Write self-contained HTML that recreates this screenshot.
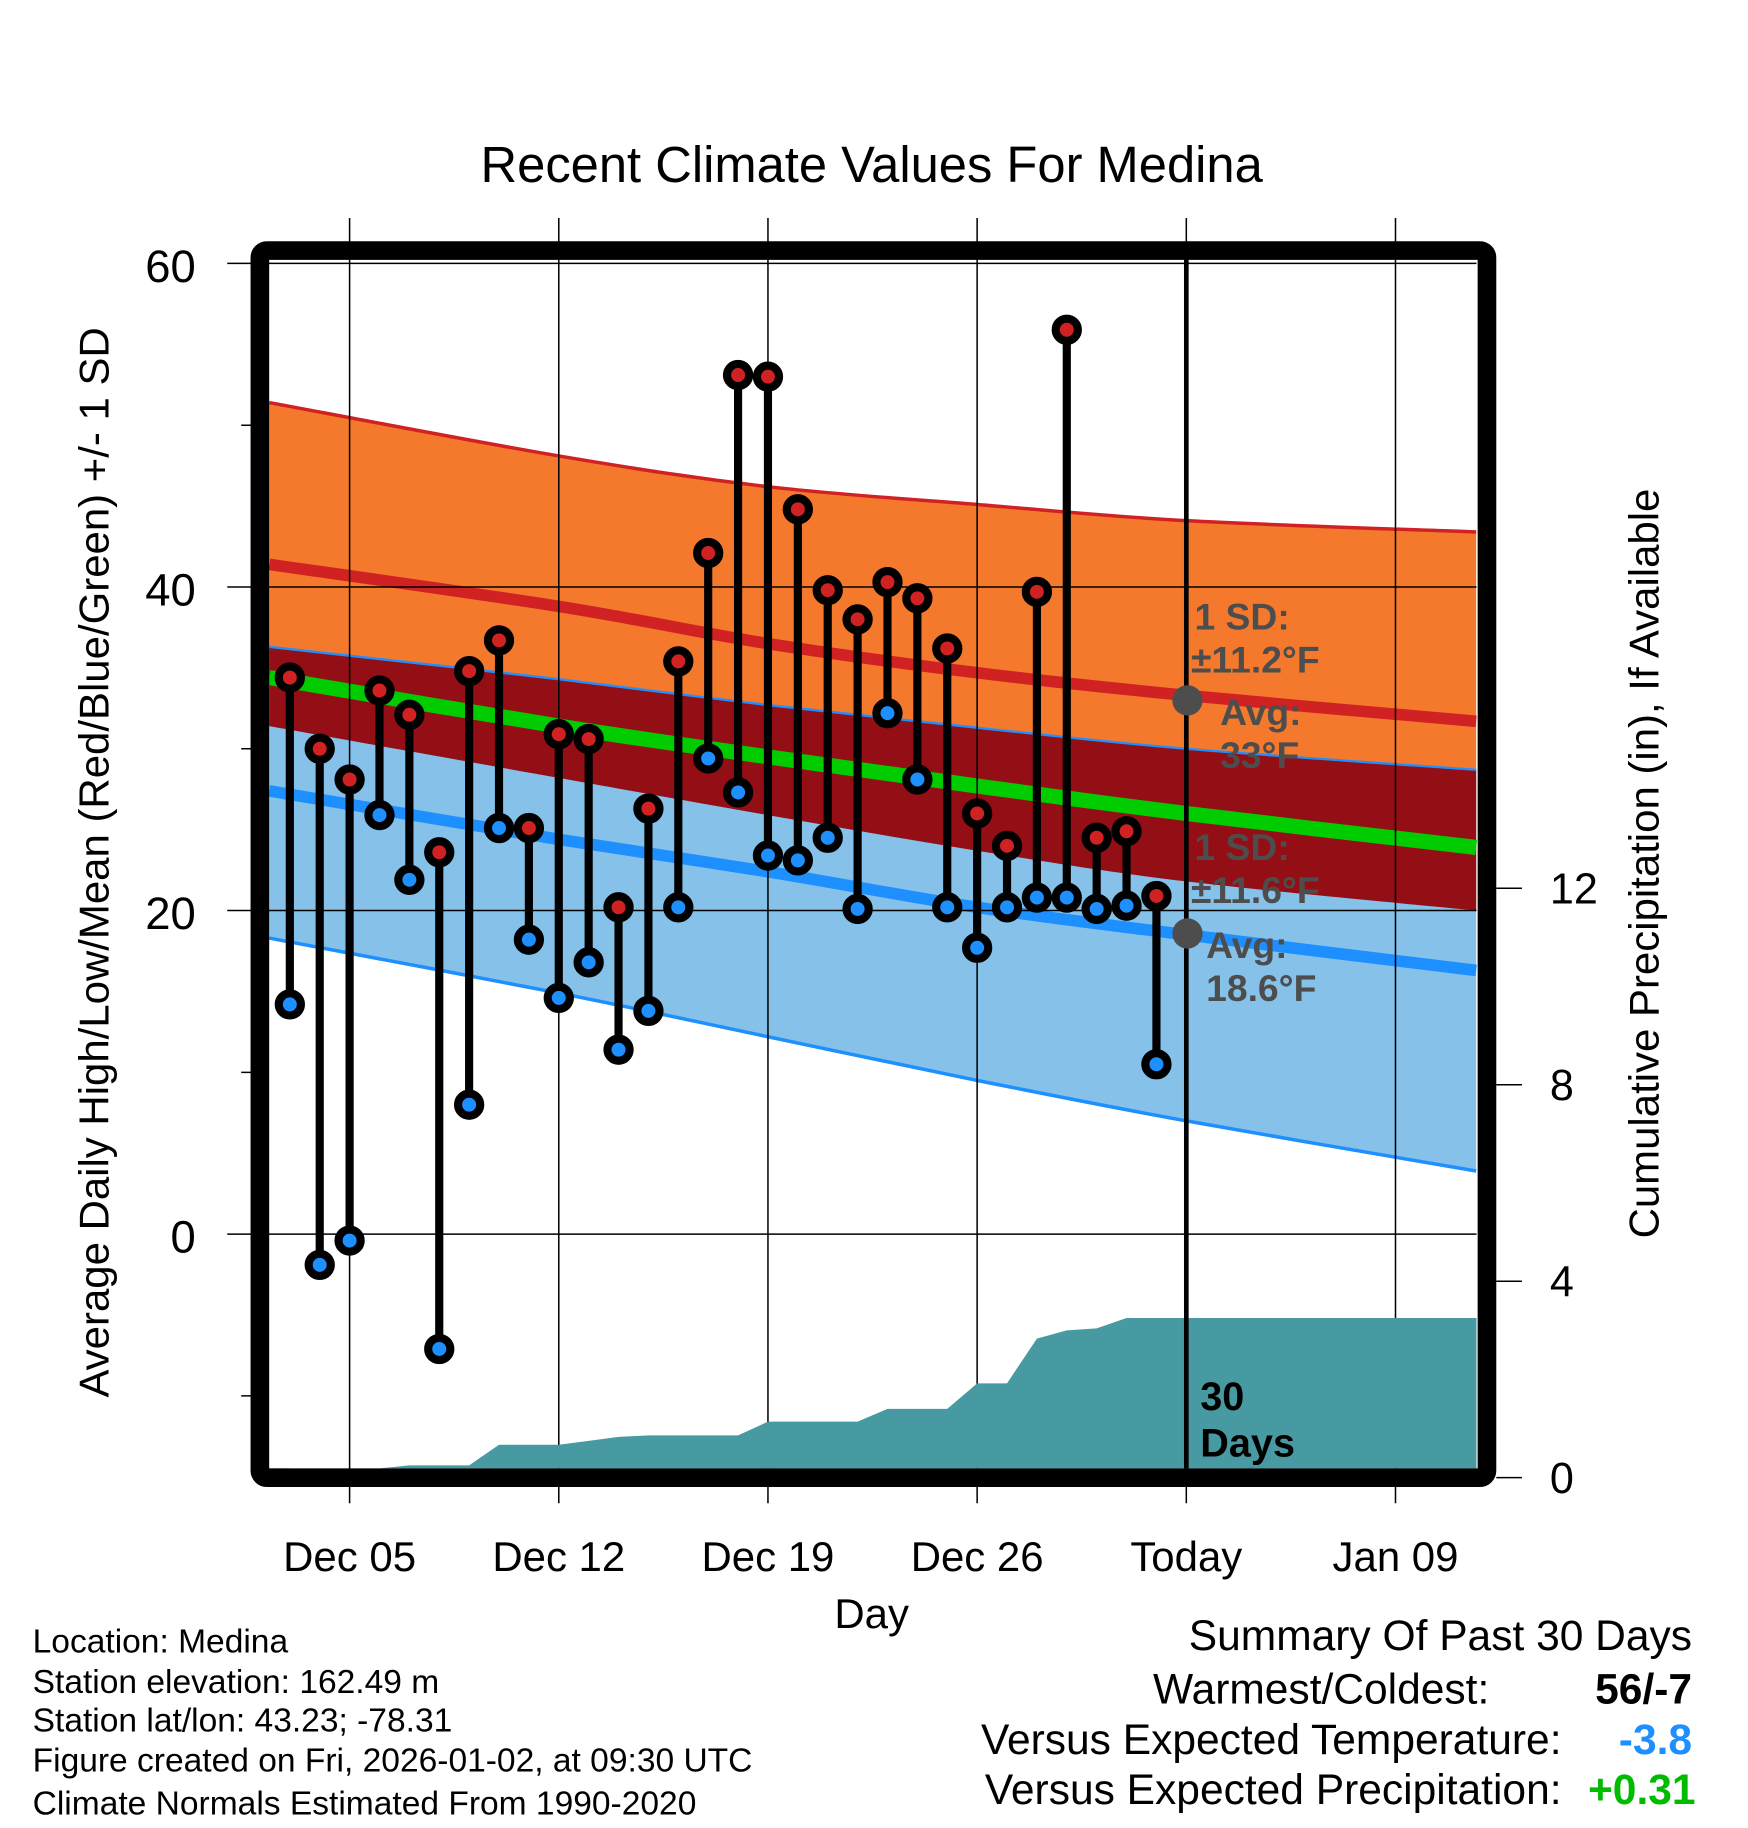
<!DOCTYPE html>
<html><head><meta charset="utf-8"><style>
html,body{margin:0;padding:0;background:#fff}
svg{display:block}
text{font-family:"Liberation Sans",Arial,sans-serif}
</style></head><body>
<svg id="chart" width="1748" height="1828" viewBox="0 0 1500 1568.6" xmlns="http://www.w3.org/2000/svg">
<rect x="0" y="0" width="1500" height="1568.6" fill="#fff"/>
<g id="bands"></g>
<g id="grid"></g>
<g id="precip"></g>
<g id="series"></g>
<g id="frame"></g>
<g id="labels"></g>
</svg>
<script>
// ---- data ----
const dayLabels = ["Dec 05","Dec 12","Dec 19","Dec 26","Today","Jan 09"];
const highs = [34.4,30.0,28.1,33.6,32.1,23.6,34.8,36.7,25.1,30.9,30.6,20.2,26.3,35.4,42.1,53.1,53.0,44.8,39.8,38.0,40.3,39.3,36.2,26.0,24.0,39.7,55.9,24.5,24.9,20.9];
const lows  = [14.2,-1.9,-0.4,25.9,21.9,-7.1,8.0,25.1,18.2,14.6,16.8,11.4,13.8,20.2,29.4,27.3,23.4,23.1,24.5,20.1,32.2,28.1,20.2,17.7,20.2,20.8,20.8,20.1,20.3,10.5];
const precipCum = [0,0,0,0,0.25,0.25,0.25,0.67,0.67,0.67,0.75,0.83,0.86,0.86,0.86,0.86,1.14,1.14,1.14,1.14,1.4,1.4,1.4,1.92,1.92,2.83,3.0,3.04,3.25,3.25];
// normals sampled at day offsets (relative to Dec 05)
const normDays = [-2.69,7,14,21,28,37.7];
const highPlusSD = [51.4,48.1,46.2,45.1,44.1,43.4];
const highMean   = [41.4,38.8,36.5,34.7,33.3,31.7];
const lowPlusSD  = [36.3,34.3,32.7,31.3,30.0,28.7];
const meanMean   = [34.4,31.4,29.5,27.7,26.0,23.9];
const highMinusSD= [31.4,28.2,25.9,23.7,21.8,20.0];
const lowMean    = [27.4,24.4,22.4,20.2,18.5,16.3];
const lowMinusSD = [18.3,14.9,12.2,9.5,7.0,3.9];
const leftTicks = [60,40,20,0];
const rightTicks = [0,4,8,12];

// ---- axes ----
const X0=231,X1=1267,Y0=222,Y1=1260;
const xDay = d => 300 + d*25.643;
const yT = v => 1059 - v*13.883;
const yP = v => 1268 - v*42.15;
const NS="http://www.w3.org/2000/svg";
function mk(parent,tag,attrs,txt){const e=document.createElementNS(NS,tag);for(const k in attrs)e.setAttribute(k,attrs[k]);if(txt!==undefined)e.textContent=txt;document.getElementById(parent).appendChild(e);return e;}
function smooth(days,vals){
  const p=days.map((d,i)=>[xDay(d),yT(vals[i])]);
  let s=`M${p[0][0]},${p[0][1]}`;
  for(let i=0;i<p.length-1;i++){
    const p0=p[Math.max(0,i-1)],p1=p[i],p2=p[i+1],p3=p[Math.min(p.length-1,i+2)];
    const c1=[p1[0]+(p2[0]-p0[0])/6,p1[1]+(p2[1]-p0[1])/6];
    const c2=[p2[0]-(p3[0]-p1[0])/6,p2[1]-(p3[1]-p1[1])/6];
    s+=` C${c1[0]},${c1[1]} ${c2[0]},${c2[1]} ${p2[0]},${p2[1]}`;
  }
  return s;
}
function revSmooth(days,vals){
  const d=[...days].reverse(),v=[...vals].reverse();
  return smooth(d,v).replace(/^M/,'L');
}
function band(top,bot,fill,name){
  const e=mk('bands','path',{d:smooth(normDays,top)+' '+revSmooth(normDays,bot)+' Z',fill:fill});
  
  
}
band(highPlusSD,highMinusSD,'#f5792d','high-sd-band');
band(lowPlusSD,lowMinusSD,'#85c1e8','low-sd-band');
band(lowPlusSD,highMinusSD,'#940e15','overlap-band');
function line(vals,color,w,name){
  const e=mk('bands','path',{d:smooth(normDays,vals),fill:'none',stroke:color,'stroke-width':w});
  
  
}
line(highPlusSD,'#d02222',3,'high-plus-sd-line');
line(highMean,'#d02222',10,'high-mean-line');
line(lowPlusSD,'#1e8fff',2,'low-plus-sd-line');
line(meanMean,'#00cc00',13,'mean-line');
line(lowMean,'#1e8fff',10,'low-mean-line');
line(lowMinusSD,'#1e8fff',3,'low-minus-sd-line');

// grid
dayLabels.forEach((l,i)=>{
  const x=xDay(i*7);
  const e=mk('grid','line',{x1:x,x2:x,y1:187,y2:1290,stroke:'#000','stroke-width':1.3});
  
  
  const t=mk('labels','text',{x:x,y:1348,'font-size':36,'text-anchor':'middle'},l);
  
  
});
leftTicks.forEach(v=>{
  const y=yT(v);
  const e=mk('grid','line',{x1:195,x2:X1,y1:y,y2:y,stroke:'#000','stroke-width':1.3});
  
  
  const t=mk('labels','text',{x:168,y:y+16,'font-size':39,'text-anchor':'end'},String(v));
  
  
});
[50,30,10,-10].forEach(v=>{
  const e=mk('grid','line',{x1:207,x2:222,y1:yT(v),y2:yT(v),stroke:'#000','stroke-width':1.3});
  
  
});
rightTicks.forEach(v=>{
  const y=yP(v);
  const e=mk('grid','line',{x1:1284,x2:1306,y1:y,y2:y,stroke:'#000','stroke-width':1.3});
  
  
  const t=mk('labels','text',{x:1330,y:y+13,'font-size':37},String(v));
  
  
});

// precip
(function(){
  let d=`M${X0},${Y1} L${X0},${yP(0)}`;
  precipCum.forEach((v,i)=>{d+=` L${xDay(i-2)},${Math.min(yP(v),Y1)}`;});
  d+=` L${X1},${yP(precipCum[precipCum.length-1])} L${X1},${Y1} Z`;
  const e=mk('precip','path',{d:d,fill:'#4799a2'});
  
  
})();

// today line
(function(){
  const e=mk('series','line',{x1:xDay(28),x2:xDay(28),y1:Y0,y2:Y1,stroke:'#000','stroke-width':4});
  
  
})();

// stems + markers
highs.forEach((h,i)=>{
  const x=xDay(i-2);
  const s=mk('series','line',{x1:x,x2:x,y1:yT(h),y2:yT(lows[i]),stroke:'#000','stroke-width':7});
  
  
});
highs.forEach((h,i)=>{
  const x=xDay(i-2);
  const a=mk('series','circle',{cx:x,cy:yT(h),r:9.5,fill:'#d02222',stroke:'#000','stroke-width':7});
  
  
  const b=mk('series','circle',{cx:x,cy:yT(lows[i]),r:9.5,fill:'#1e8fff',stroke:'#000','stroke-width':7});
  
  
});

// frame
(function(){
  const e=mk('frame','rect',{x:223,y:215,width:1053,height:1053,rx:6,fill:'none',stroke:'#000','stroke-width':16});
  
  
})();
</script>
<svg style="position:absolute;left:0;top:0" width="1748" height="1828" viewBox="0 0 1500 1568.6" xmlns="http://www.w3.org/2000/svg">
<text x="748" y="156" font-size="43.5" text-anchor="middle" font-family="Liberation Sans, sans-serif">Recent Climate Values For Medina</text>
<text transform="translate(93,740) rotate(-90)" font-size="36" text-anchor="middle" font-family="Liberation Sans, sans-serif">Average Daily High/Low/Mean (Red/Blue/Green) +/- 1 SD</text>
<text transform="translate(1423,741) rotate(-90)" font-size="36" text-anchor="middle" font-family="Liberation Sans, sans-serif">Cumulative Precipitation (in), If Available</text>
<text x="748" y="1397" font-size="36" text-anchor="middle" font-family="Liberation Sans, sans-serif">Day</text>
<g fill="#4d4d4d" font-weight="bold" font-size="32" font-family="Liberation Sans, sans-serif">
<text x="1025" y="540">1 SD:</text>
<text x="1022" y="577">±11.2°F</text>
<text x="1047" y="622">Avg:</text>
<text x="1047" y="659">33°F</text>
<text x="1025" y="738">1 SD:</text>
<text x="1022" y="775">±11.6°F</text>
<text x="1035" y="822">Avg:</text>
<text x="1035" y="859">18.6°F</text>
</g>
<circle cx="1019" cy="601" r="13" fill="#4d4d4d"/>
<circle cx="1019" cy="801" r="13" fill="#4d4d4d"/>
<text x="1030" y="1210" font-size="34" font-weight="bold" font-family="Liberation Sans, sans-serif">30</text>
<text x="1030" y="1250" font-size="34" font-weight="bold" font-family="Liberation Sans, sans-serif">Days</text>
<g font-size="28.8" font-family="Liberation Sans, sans-serif">
<text x="28" y="1418">Location: Medina</text>
<text x="28" y="1453">Station elevation: 162.49 m</text>
<text x="28" y="1486">Station lat/lon: 43.23; -78.31</text>
<text x="28" y="1520">Figure created on Fri, 2026-01-02, at 09:30 UTC</text>
<text x="28" y="1557">Climate Normals Estimated From 1990-2020</text>
</g>
<g font-size="36.5" font-family="Liberation Sans, sans-serif">
<text x="1452" y="1416" text-anchor="end">Summary Of Past 30 Days</text>
<text x="1278" y="1462" text-anchor="end">Warmest/Coldest:</text>
<text x="1452" y="1462" text-anchor="end" font-weight="bold">56/-7</text>
<text x="1340" y="1505" text-anchor="end">Versus Expected Temperature:</text>
<text x="1452" y="1505" text-anchor="end" font-weight="bold" fill="#1e8fff">-3.8</text>
<text x="1340" y="1548" text-anchor="end">Versus Expected Precipitation:</text>
<text x="1455" y="1548" text-anchor="end" font-weight="bold" fill="#00bb00">+0.31</text>
</g>
</svg>
</body></html>
